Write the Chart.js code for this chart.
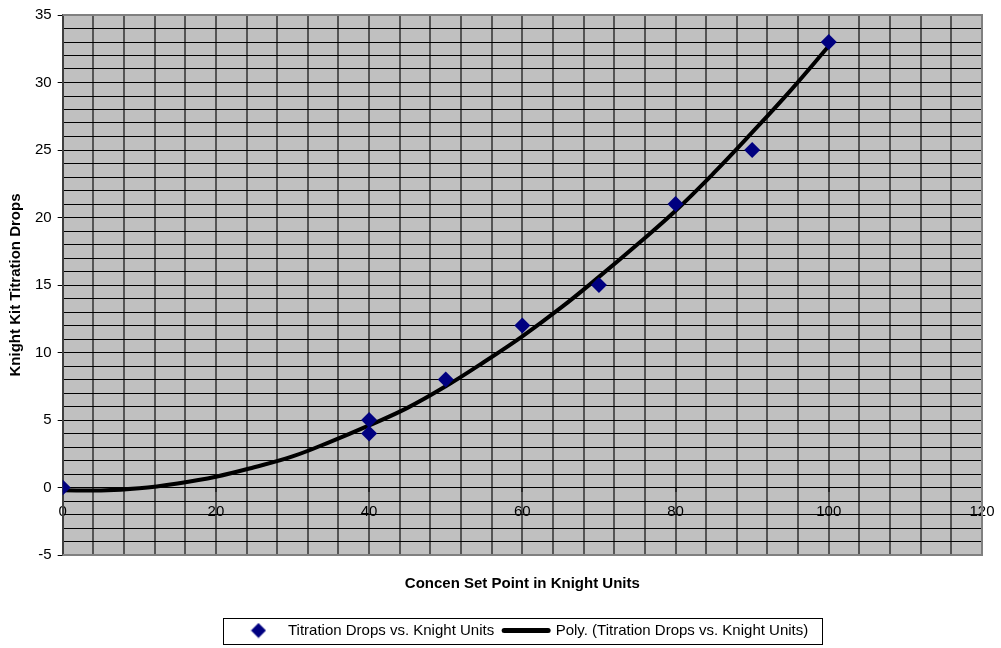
<!DOCTYPE html>
<html>
<head>
<meta charset="utf-8">
<title>Knight Kit Titration Drops</title>
<script src="https://cdn.jsdelivr.net/npm/chart.js@4.4.1/dist/chart.umd.min.js"></script>
<style>
  body { margin: 0; background: #fff; }
  #wrap { width: 1001px; height: 648px; }
</style>
</head>
<body>
<div id="wrap"><canvas id="myChart"></canvas></div>
<script>
const ctx = document.getElementById("myChart").getContext("2d");

// measured points
const knightUnits = [0, 40, 40, 50, 60, 70, 80, 90, 100];
const titrationDrops = [0, 5, 4, 8, 12, 15, 21, 25, 33];

// trend curve, every 5 units
const trendUnits = [0, 5, 10, 15, 20, 25, 30, 35, 40, 45, 50, 55, 60, 65, 70, 75, 80, 85, 90, 95, 100];
const trendDrops = [-0.2, -0.22, -0.06, 0.3, 0.8, 1.5, 2.3, 3.4, 4.6, 5.9, 7.5, 9.3, 11.2, 13.3, 15.6, 18.0, 20.5, 23.3, 26.3, 29.4, 32.7];

// tick labels
const xTickLabels = [0, 20, 40, 60, 80, 100, 120];
const yTickLabels = [-5, 0, 5, 10, 15, 20, 25, 30, 35];

const seriesName = "Titration Drops vs. Knight Units";
const trendName = "Poly. (Titration Drops vs. Knight Units)";

const fontFamily = "'Liberation Sans', Arial, sans-serif";

// small diamond for the legend
const diamond = document.createElement("canvas");
diamond.width = 16;
diamond.height = 16;
let dctx = diamond.getContext("2d");
dctx.fillStyle = "#000080";
dctx.beginPath();
dctx.moveTo(8, 0.5);
dctx.lineTo(15.5, 8);
dctx.lineTo(8, 15.5);
dctx.lineTo(0.5, 8);
dctx.closePath();
dctx.fill();

const plotBackground = {
    id: "plotBackground",
    beforeDraw(chart) {
        const a = chart.chartArea;
        const c = chart.ctx;
        c.save();
        c.fillStyle = "#c0c0c0";
        c.fillRect(a.left, a.top, a.right - a.left, a.bottom - a.top);
        c.restore();
    },
    beforeDatasetsDraw(chart) {
        // grey frame on top, right and bottom
        const a = chart.chartArea;
        const c = chart.ctx;
        c.save();
        c.strokeStyle = "#808080";
        c.lineWidth = 2;
        c.beginPath();
        c.moveTo(a.left, a.top);
        c.lineTo(a.right, a.top);
        c.lineTo(a.right, a.bottom);
        c.lineTo(a.left, a.bottom);
        c.stroke();
        c.restore();
    },
    afterDraw(chart) {
        // box around legend
        const boxes = chart.legend.legendHitBoxes;
        if (!boxes || !boxes.length) return;
        const first = boxes[0];
        const last = boxes[boxes.length - 1];
        const c = chart.ctx;
        c.save();
        c.strokeStyle = "#000";
        c.lineWidth = 1;
        c.strokeRect(Math.round(first.left - 13) + 0.5, Math.round(first.top - 5) + 0.5,
            Math.round(last.left + last.width - first.left + 27), Math.round(first.height + 11));
        c.restore();
    }
};

const data = {
    datasets: [
        {
            type: "scatter",
            label: seriesName,
            data: knightUnits.map((x, i) => ({ x: x, y: titrationDrops[i] })),
            pointStyle: "rectRot",
            pointRadius: 8,
            pointHoverRadius: 8,
            backgroundColor: "#000080",
            borderColor: "#000080",
            borderWidth: 0,
        },
        {
            type: "line",
            label: trendName,
            data: trendUnits.map((x, i) => ({ x: x, y: trendDrops[i] })),
            borderColor: "#000",
            backgroundColor: "#000",
            borderWidth: 4,
            pointRadius: 0,
            fill: false,
            tension: 0.4,
        },
    ],
};

const config = {
    type: "scatter",
    data: data,
    plugins: [plotBackground],
    options: {
        responsive: true,
        maintainAspectRatio: false,
        animation: false,
        devicePixelRatio: 1,
        layout: {
            padding: { left: 3, right: 19, top: 14, bottom: 0 },
        },
        font: { family: fontFamily, size: 15 },
        plugins: {
            tooltip: { enabled: false },
            legend: {
                position: "bottom",
                fullSize: false,
                labels: {
                    color: "#000",
                    font: { family: fontFamily, size: 15 },
                    usePointStyle: true,
                    pointStyleWidth: 44,
                    boxHeight: 10,
                    padding: 10,
                    generateLabels: (chart) => {
                        const items = Chart.defaults.plugins.legend.labels.generateLabels(chart);
                        items[0].pointStyle = diamond;
                        items[1].pointStyle = "line";
                        items[1].strokeStyle = "#000";
                        items[1].lineWidth = 5;
                        items[1].lineCap = "round";
                        return items;
                    },
                },
            },
        },
        scales: {
            x: {
                type: "linear",
                position: { y: 0 },
                min: 0,
                max: 120,
                ticks: {
                    stepSize: 4,
                    autoSkip: false,
                    maxRotation: 0,
                    padding: 3,
                    color: "#000",
                    font: { family: fontFamily, size: 15 },
                    callback: (value) => xTickLabels.includes(value) ? String(value) : "",
                },
                grid: {
                    color: "#555",
                    lineWidth: 2,
                    // long tick slot, only the first 4px drawn
                    tickLength: 12,
                    tickBorderDash: [4, 40],
                    tickColor: (c) => c.tick && xTickLabels.includes(c.tick.value) ? "#000" : "rgba(0,0,0,0)",
                    tickWidth: 1,
                },
                border: { display: true, color: "#000", width: 1 },
            },
            xTitle: {
                type: "linear",
                position: "bottom",
                min: 0,
                max: 120,
                ticks: { display: false },
                grid: { display: false },
                border: { display: false },
                title: {
                    display: true,
                    text: "Concen Set Point in Knight Units",
                    color: "#000",
                    font: { family: fontFamily, size: 15, weight: "bold" },
                    padding: { top: 12, bottom: 20 },
                },
            },
            y: {
                type: "linear",
                position: "left",
                min: -5,
                max: 35,
                ticks: {
                    stepSize: 1,
                    autoSkip: false,
                    padding: 6,
                    color: "#000",
                    font: { family: fontFamily, size: 15 },
                    callback: (value) => yTickLabels.includes(value) ? String(value) : "",
                },
                grid: {
                    color: "#000",
                    lineWidth: 1,
                    tickLength: 5,
                    tickColor: (c) => c.tick && yTickLabels.includes(c.tick.value) ? "#000" : "rgba(0,0,0,0)",
                },
                border: { display: true, color: "#404040", width: 2 },
                title: {
                    display: true,
                    text: "Knight Kit Titration Drops",
                    color: "#000",
                    font: { family: fontFamily, size: 15, weight: "bold" },
                    padding: { top: 4, bottom: 4 },
                },
            },
        },
    },
};

const myChart = new Chart(ctx, config);
</script>
</body>
</html>
